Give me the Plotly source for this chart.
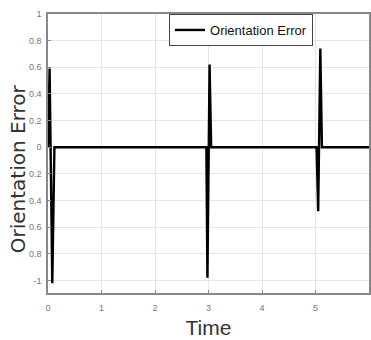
import plotly.graph_objects as go

time = [0.0, 0.03, 0.08, 0.12, 2.96, 2.98, 3.02, 3.05, 5.02, 5.05, 5.09, 5.12, 6.0]
error = [0.0, 0.59, -1.02, 0.0, 0.0, -0.98, 0.62, 0.0, 0.0, -0.48, 0.74, 0.0, 0.0]

y_ticks = [1, 0.8, 0.6, 0.4, 0.2, 0, -0.2, -0.4, -0.6, -0.8, -1]
y_tick_labels = ["1", "0.8", "0.6", "0.4", "0.2", "0", "0.2", "0.4", "0.6", "0.8", "-1"]
x_ticks = [0, 1, 2, 3, 4, 5, 6]

fig = go.Figure()
fig.add_trace(go.Scatter(x=time, y=error, mode="lines", name="Orientation Error",
                         line=dict(color="black", width=2.4)))

fig.add_annotation(text="Orientation Error", xref="paper", yref="paper",
                   x=-0.093, y=0.444, xanchor="center", yanchor="middle",
                   textangle=-90, showarrow=False,
                   font=dict(family="DejaVu Sans", size=20, color="#333"))

fig.update_layout(
    width=371, height=340,
    margin=dict(l=48, r=0, t=14, b=47),
    paper_bgcolor="white", plot_bgcolor="white",
    showlegend=True,
    legend=dict(x=0.377, y=1.0, xanchor="left", yanchor="top",
                bordercolor="#444", borderwidth=1, bgcolor="white",
                font=dict(family="Liberation Sans, Arial", size=13, color="#111"),
                tracegroupgap=0, itemwidth=30),
    xaxis=dict(range=[0, 6], tickvals=x_ticks, showgrid=True, gridcolor="#e6e6e6",
               showline=True, linecolor="#888", linewidth=1.5, mirror=True,
               ticks="inside", ticklen=3, tickcolor="#888", zeroline=False,
               ticklabelstandoff=5,
               tickfont=dict(family="Liberation Sans, Arial", size=9, color="#777"),
               title=dict(text="Time", standoff=9,
                          font=dict(family="Liberation Sans, Arial", size=21, color="#333"))),
    yaxis=dict(range=[-1.094, 1.0], tickvals=y_ticks, ticktext=y_tick_labels,
               showgrid=True, gridcolor="#e6e6e6",
               showline=True, linecolor="#888", linewidth=1.5, mirror=True,
               ticks="inside", ticklen=3, tickcolor="#888", zeroline=False,
               ticklabelstandoff=3,
               tickfont=dict(family="Liberation Sans, Arial", size=9, color="#777")),
)

fig.write_html("out.html")
